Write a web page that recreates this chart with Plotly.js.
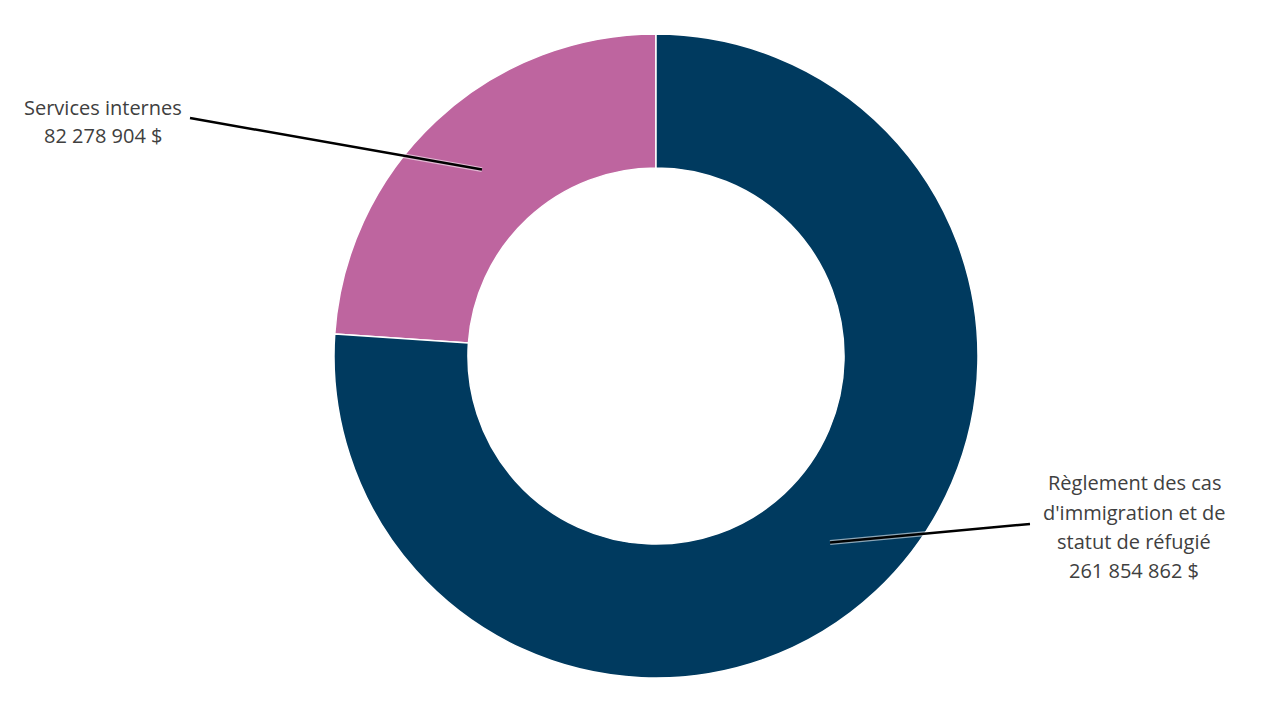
<!DOCTYPE html>
<html>
<head>
<meta charset="utf-8">
<script src="https://cdn.plot.ly/plotly-3.0.1.min.js"></script>
<style>html,body{margin:0;padding:0;background:#fff;}#chart{width:1280px;height:720px;}</style>
</head>
<body>
<div id="chart"></div>
<script>
// Data
const categories = ["Services internes", "Règlement des cas d'immigration et de statut de réfugié"];
const values = [82278904, 261854862];
const colors = ["#BE659F", "#003A5F"];
// Wrapped category names as shown on the chart
const nameLines = [["Services internes"], ["Règlement des cas", "d'immigration et de", "statut de réfugié"]];

// Layout constants
const W = 1280, H = 720;
const cx = 656, cy = 356, R = 322;
const hole = 0.584;
// label placement (pixels): text centre x, first line y, line step, leader tail
const labelPos = [
  {x: 103, y: 107, step: 28, tailX: 190, tailY: 118},
  {x: 1134, y: 483, step: 29, tailX: 1030, tailY: 524}
];

function fmt(v) {
  return String(v).replace(/\B(?=(\d{3})+(?!\d))/g, " ") + " $";
}
const px = x => x / W;
const py = y => 1 - y / H;

const total = values.reduce((a, b) => a + b, 0);
const shapes = [];
const annotations = [];
let cum = 0;
values.forEach((v, i) => {
  const f = v / total;
  const theta = 2 * Math.PI * (cum + f / 2); // counterclockwise from 12 o'clock
  cum += f;
  const rMid = (R + R * hole) / 2;
  const ex = cx - Math.sin(theta) * rMid;
  const ey = cy - Math.cos(theta) * rMid;
  const lp = labelPos[i];
  shapes.push({type: "line", xref: "paper", yref: "paper",
    x0: px(lp.tailX), y0: py(lp.tailY), x1: px(ex), y1: py(ey),
    line: {color: "rgba(255,255,255,0.55)", width: 5}});
  shapes.push({type: "line", xref: "paper", yref: "paper",
    x0: px(lp.tailX), y0: py(lp.tailY), x1: px(ex), y1: py(ey),
    line: {color: "#000000", width: 2.5}});
  const lines = nameLines[i].concat([fmt(v)]);
  lines.forEach((t, k) => {
    annotations.push({xref: "paper", yref: "paper", x: px(lp.x), y: py(lp.y + k * lp.step),
      xanchor: "center", yanchor: "middle", text: t, showarrow: false,
      font: {family: "'Open Sans', sans-serif", size: 20, color: "#404040"}});
  });
});

// Slices run clockwise in this renderer; start the first slice so it ends at 12 o'clock
const trace = {
  type: "pie",
  labels: categories,
  values: values,
  marker: {colors: colors, line: {color: "#ffffff", width: 1.5}},
  hole: hole,
  sort: false,
  direction: "clockwise",
  rotation: -360 * values[0] / total,
  textinfo: "none",
  hoverinfo: "none",
  domain: {x: [(cx - R) / W, (cx + R) / W], y: [1 - (cy + R) / H, 1 - (cy - R) / H]}
};

Plotly.newPlot("chart", [trace], {
  width: W, height: H,
  margin: {l: 0, r: 0, t: 0, b: 0},
  showlegend: false,
  paper_bgcolor: "#ffffff",
  shapes: shapes,
  annotations: annotations
}, {displayModeBar: false, staticPlot: true});
</script>
</body>
</html>
